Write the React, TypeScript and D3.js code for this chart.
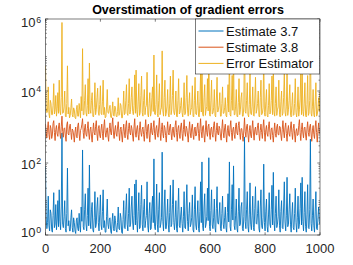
import React from "react";
import * as d3 from "d3";

// samples every 2.5 iterations, 0..1000
const step = 2.5;

const estimate37 = [
  80, 3, 1.5, 2.2, 12, 1.8, 1.3, 5, 4, 1.4, 1.2, 3.5, 15, 1.6, 2, 7, 1.4, 2.6, 9, 1.7,
  18, 2.4, 1.4, 6, 680, 2, 1.6, 3.2, 9, 1.5, 1.2, 4, 72, 1.8, 2.5, 1.3, 1.3, 3, 5, 1.6,
  1.2, 3, 2.2, 1.3, 1.1, 2.6, 3, 1.5, 1.3, 4, 1.8, 1.2, 6, 2.4, 230, 1.7, 1.4, 5, 14, 2,
  1.3, 3.5, 20, 1.8, 88, 2.6, 1.5, 5, 8, 1.4, 1.2, 3, 16, 1.6, 2, 6, 11, 2.2, 1.3, 3.8,
  13, 1.9, 1.4, 4.5, 18, 1.6, 2.5, 1.2, 1.2, 3.2, 10, 2, 1.5, 2.8, 3, 1.3, 1.1, 2.4, 4, 1.5,
  1.3, 3.4, 2.5, 1.4, 1.2, 2.2, 6, 1.5, 1.4, 4, 3, 1.2, 1.1, 2.7, 9, 1.6, 1.5, 5, 14, 2,
  1.3, 4, 20, 1.7, 2, 6, 12, 2.3, 1.4, 3.5, 26, 1.9, 34, 2.5, 1.2, 4.5, 15, 1.5, 1.6, 7,
  24, 2, 1.3, 5, 10, 1.6, 2.5, 3.5, 30, 1.8, 1.2, 4, 8, 1.4, 1.5, 6, 12, 2.2, 130, 1.7,
  1.4, 3.8, 26, 2, 1.2, 5, 15, 1.6, 2, 3, 200, 2.4, 1.3, 6, 18, 1.5, 1.5, 3.4, 10, 1.9,
  1.2, 4.2, 24, 1.7, 2, 7, 34, 2.2, 1.4, 3, 9, 1.5, 1.2, 5, 20, 1.8, 1.6, 3.6, 6, 2.1,
  1.2, 3.2, 16, 1.6, 1.5, 6, 25, 2.4, 1.3, 4, 8, 1.7, 2, 3, 13, 1.4, 1.2, 5, 22, 1.9,
  1.4, 3.6, 9, 1.5, 1.2, 4.5, 30, 2.2, 107, 1.8, 1.3, 6, 14, 1.6, 2, 3.3, 20, 2.5, 140, 1.7,
  1.3, 4.8, 18, 1.9, 1.5, 3, 10, 1.6, 1.2, 5.5, 22, 2.2, 2, 3.6, 8, 1.5, 1.3, 4, 12, 2,
  1.5, 3, 6, 1.6, 1.2, 4.2, 14, 2.3, 107, 1.7, 1.3, 5, 25, 2.6, 83, 1.8, 1.4, 3.4, 10, 1.5,
  1.2, 4.4, 20, 1.8, 2, 6, 8, 1.5, 1.3, 3.2, 530, 2.4, 1.5, 5, 16, 1.7, 1.2, 3.8, 28, 2,
  1.4, 3.4, 12, 1.6, 1.3, 5.5, 22, 2.1, 2, 4, 9, 1.5, 1.2, 6, 18, 1.8, 1.5, 3, 93, 2.2,
  1.3, 4.6, 10, 1.7, 1.2, 3.6, 15, 2, 1.6, 5, 24, 1.9, 55, 2.5, 1.3, 4, 12, 1.6, 2, 3.2,
  18, 1.8, 1.2, 4.5, 9, 1.6, 1.5, 6, 30, 2.3, 1.3, 3.4, 40, 1.7, 2, 5, 14, 2, 1.2, 3.6,
  8, 1.6, 1.4, 4, 20, 2.2, 1.2, 3, 12, 1.5, 2, 5.5, 28, 1.9, 40, 2.4, 1.3, 4.2, 16, 1.7,
  1.2, 3.8, 25, 1.6, 1.5, 5, 460, 2.1, 1.3, 3.4, 10, 1.8, 1.2, 4.6, 16, 1.5, 1.4, 3, 6, 2.4,
  2,
];

const estimate38 = [
  1200, 700, 500, 950, 1400, 620, 450, 1100, 900, 480, 600, 1250, 1500, 700, 420, 850, 1100, 650, 550, 1000,
  1300, 680, 480, 1050, 2000, 750, 520, 900, 950, 560, 400, 1150, 1400, 650, 600, 1000, 1200, 700, 450, 880,
  800, 600, 380, 720, 1000, 550, 500, 1100, 1300, 640, 420, 800, 900, 1200, 1700, 700, 480, 950, 1200, 620,
  550, 900, 1400, 680, 450, 850, 1000, 560, 380, 760, 1300, 700, 600, 1050, 1500, 640, 420, 900, 1100, 600,
  500, 880, 1200, 650, 440, 1000, 1600, 720, 520, 780, 950, 560, 400, 900, 1300, 700, 600, 1150, 1800, 680,
  480, 820, 1100, 640, 550, 1000, 1400, 700, 420, 860, 1000, 600, 380, 760, 1200, 680, 500, 1050, 1500, 620,
  450, 900, 1300, 700, 600, 1100, 900, 560, 400, 1000, 1700, 680, 520, 880, 1100, 620, 430, 950, 1400, 700,
  550, 850, 1000, 620, 400, 900, 1600, 740, 480, 1050, 1200, 600, 380, 820, 1300, 700, 600, 980, 1500, 650,
  450, 920, 1100, 640, 520, 1000, 1800, 720, 420, 860, 1300, 660, 500, 1100, 950, 580, 380, 780, 1400, 700,
  600, 1000, 1200, 680, 440, 820, 1000, 600, 520, 1100, 1500, 700, 400, 900, 1100, 640, 480, 1000, 1300, 660,
  420, 860, 1600, 720, 550, 1050, 900, 600, 380, 780, 1400, 680, 500, 950, 1200, 620, 450, 880, 1000, 560,
  600, 1000, 1300, 660, 420, 900, 1700, 740, 500, 1000, 1100, 600, 380, 820, 1500, 700, 550, 1050, 1200, 640,
  450, 880, 1000, 620, 520, 1100, 1400, 700, 400, 800, 1300, 660, 600, 1050, 900, 560, 430, 900, 1600, 720,
  500, 950, 1200, 640, 380, 780, 1100, 600, 550, 1000, 1500, 700, 420, 860, 1000, 620, 480, 1050, 1300, 680,
  600, 1100, 1400, 700, 450, 900, 900, 580, 400, 820, 1800, 740, 520, 1000, 1200, 640, 380, 780, 1100, 600,
  500, 920, 1500, 680, 430, 860, 1000, 620, 600, 1100, 1300, 660, 420, 800, 1200, 700, 480, 1000, 1600, 720,
  400, 840, 1100, 640, 550, 1050, 1400, 700, 450, 880, 950, 580, 380, 760, 1300, 660, 520, 1000, 1200, 620,
  600, 1050, 1000, 600, 420, 860, 1500, 720, 500, 950, 1300, 660, 400, 820, 1100, 640, 550, 1000, 1400, 700,
  450, 900, 1200, 640, 380, 760, 900, 580, 600, 1100, 1600, 700, 420, 860, 1300, 680, 500, 950, 1000, 600,
  430, 880, 1400, 700, 550, 1000, 1200, 640, 400, 820, 1100, 620, 480, 1000, 1500, 700, 380, 780, 1300, 660,
  700,
];

const errorEstimator = [
  5e4, 3500, 2500, 2800, 1.3e4, 2400, 1800, 5500, 4500, 2200, 2200, 4000, 1.6e4, 2300, 3000, 7500, 2000, 3200, 9000, 2400,
  2e4, 2800, 2200, 6500, 8e5, 2400, 2500, 3600, 1e4, 2000, 1900, 4500, 5e4, 2300, 3500, 1800, 2100, 3400, 6000, 2200,
  1900, 3400, 3000, 1800, 1700, 3000, 4000, 2000, 2000, 4500, 2800, 1800, 7000, 2800, 1.5e5, 2200, 2200, 5500, 1.5e4, 2500,
  2000, 4000, 2.2e4, 2300, 6e4, 3000, 2400, 5500, 9000, 2000, 1900, 3500, 1.7e4, 2200, 3000, 6500, 1.2e4, 2600, 2100, 4200,
  1.4e4, 2400, 2200, 5000, 2e4, 2200, 3500, 1800, 1900, 3600, 1.1e4, 2500, 2400, 3200, 4000, 1900, 1800, 2800, 5000, 2100,
  2000, 3800, 3500, 2000, 1900, 2700, 6500, 2100, 2200, 4500, 4000, 1800, 1800, 3100, 1e4, 2200, 2400, 5500, 1.5e4, 2400,
  2100, 4500, 2.2e4, 2300, 3000, 6500, 1.3e4, 2700, 2200, 4000, 2.8e4, 2400, 3.8e4, 3000, 1900, 5000, 1.6e4, 2100, 2500, 7500,
  2.6e4, 2500, 2000, 5500, 1.1e4, 2200, 3500, 4000, 3.3e4, 2300, 1900, 4500, 9000, 2000, 2400, 6500, 1.3e4, 2700, 1e5, 2300,
  2200, 4200, 2.8e4, 2400, 1900, 5500, 1.6e4, 2200, 3000, 3400, 1.3e5, 2800, 2000, 6500, 2e4, 2000, 2400, 3800, 1.1e4, 2300,
  1900, 4600, 2.6e4, 2200, 3000, 7500, 3.8e4, 2600, 2200, 3400, 1e4, 2000, 1900, 5500, 2.2e4, 2300, 2500, 4000, 6500, 2500,
  1900, 3600, 1.7e4, 2200, 2400, 6500, 2.7e4, 2800, 2000, 4500, 9000, 2200, 3000, 3400, 1.4e4, 2000, 1900, 5500, 2.4e4, 2300,
  2200, 4000, 1e4, 2000, 1900, 5000, 3.3e4, 2600, 1.2e5, 2300, 2000, 6500, 1.5e4, 2100, 3000, 3700, 2.2e4, 2800, 1.5e5, 2200,
  2000, 5300, 2e4, 2300, 2400, 3400, 1.1e4, 2100, 1900, 6000, 2.4e4, 2600, 3000, 4000, 9000, 2000, 2000, 4500, 1.3e4, 2400,
  2400, 3400, 6500, 2100, 1900, 4600, 1.5e4, 2600, 1.2e5, 2200, 2000, 5500, 2.7e4, 2900, 9e4, 2200, 2200, 3800, 1.1e4, 2000,
  1900, 4800, 2.2e4, 2200, 3000, 6500, 9000, 2000, 2000, 3600, 6e5, 2700, 2400, 5500, 1.7e4, 2200, 1900, 4200, 3e4, 2400,
  2200, 3800, 1.3e4, 2100, 2000, 6000, 2.4e4, 2400, 3000, 4500, 1e4, 2000, 1900, 6500, 2e4, 2200, 2400, 3400, 1e5, 2500,
  2000, 5000, 1.1e4, 2100, 1900, 4000, 1.6e4, 2300, 2500, 5500, 2.6e4, 2200, 6e4, 2800, 2000, 4500, 1.3e4, 2100, 3000, 3600,
  2e4, 2200, 1900, 5000, 1e4, 2100, 2400, 6500, 3.3e4, 2600, 2000, 3800, 4.4e4, 2100, 3000, 5500, 1.5e4, 2300, 1900, 4000,
  9000, 2100, 2200, 4500, 2.2e4, 2500, 1900, 3400, 1.3e4, 2000, 3000, 6000, 3e4, 2200, 4.4e4, 2700, 2000, 4600, 1.7e4, 2100,
  1900, 4200, 2.7e4, 2100, 2400, 5500, 5e5, 2400, 2000, 3800, 1.1e4, 2200, 1900, 5000, 1.7e4, 2000, 2200, 3400, 6500, 2700,
  9000,
];

const xTicks = [0, 200, 400, 600, 800, 1000];
const yTickExps = [0, 2, 4, 6];
const seriesNames = ["Estimate 3.7", "Estimate 3.8", "Error Estimator"];
const colors = ["#0072BD", "#D95319", "#EDB120"];

const W = 353;
const H = 265;
const m = { left: 45.5, right: 320, top: 19, bottom: 235 };
const font = "'Liberation Sans', Arial, sans-serif";
const axisColor = "#262626";

export default function App() {
  const x = d3.scaleLinear().domain([0, 1000]).range([m.left, m.right]);
  const y = d3.scaleLog().domain([1, 1e6]).range([m.bottom, m.top]);

  const line = d3
    .line<number>()
    .x((_, i) => x(i * step))
    .y((d) => y(d));

  const series = [estimate37, estimate38, errorEstimator];

  // minor ticks for log axis
  const minor: number[] = [];
  for (let e = 0; e < 6; e++) {
    for (let k = 2; k <= 9; k++) minor.push(k * Math.pow(10, e));
  }

  // matlab nudges the end labels inward
  const labelShift = (e: number) => (e === 6 ? 8.3 : e === 0 ? 2.3 : 5.5);

  const legend = { x: 195.5, y: 19, w: 124, h: 55 };

  return (
    <svg
      width={W}
      height={H}
      style={{ position: "fixed", left: 0, top: 0, background: "#fff" }}
      fontFamily={font}
    >
      <defs>
        <clipPath id="plotClip">
          <rect x={m.left} y={m.top} width={m.right - m.left} height={m.bottom - m.top} />
        </clipPath>
      </defs>
      <rect x={0} y={0} width={W} height={H} fill="#fff" />

      <g clipPath="url(#plotClip)">
        {series.map((s, i) => (
          <path
            key={i}
            d={line(s) || ""}
            fill="none"
            stroke={colors[i]}
            strokeWidth={0.9}
            strokeLinejoin="round"
          />
        ))}
      </g>

      {/* axes box */}
      <rect
        x={m.left}
        y={m.top}
        width={m.right - m.left}
        height={m.bottom - m.top}
        fill="none"
        stroke={axisColor}
        strokeWidth={0.6}
      />

      {/* x ticks */}
      {xTicks.map((t) => (
        <g key={t}>
          <line x1={x(t)} x2={x(t)} y1={m.bottom} y2={m.bottom - 2.7} stroke={axisColor} strokeWidth={0.6} />
          <line x1={x(t)} x2={x(t)} y1={m.top} y2={m.top + 2.7} stroke={axisColor} strokeWidth={0.6} />
          <text x={x(t)} y={253.3} textAnchor="middle" fontSize={13} fill={axisColor}>
            {t}
          </text>
        </g>
      ))}

      {/* y ticks */}
      {yTickExps.map((e) => {
        const yy = y(Math.pow(10, e));
        const base = yy + labelShift(e);
        return (
          <g key={e}>
            <line x1={m.left} x2={m.left + 2.7} y1={yy} y2={yy} stroke={axisColor} strokeWidth={0.6} />
            <line x1={m.right} x2={m.right - 2.7} y1={yy} y2={yy} stroke={axisColor} strokeWidth={0.6} />
            <text x={35.5} y={base} textAnchor="end" fontSize={13} fill={axisColor}>
              10
            </text>
            <text x={36.2} y={base - 4.8} textAnchor="start" fontSize={8.8} fill={axisColor}>
              {e}
            </text>
          </g>
        );
      })}
      {minor.map((v) => {
        const yy = y(v);
        return (
          <g key={v}>
            <line x1={m.left} x2={m.left + 1.5} y1={yy} y2={yy} stroke={axisColor} strokeWidth={0.5} />
            <line x1={m.right} x2={m.right - 1.5} y1={yy} y2={yy} stroke={axisColor} strokeWidth={0.5} />
          </g>
        );
      })}

      {/* title */}
      <text x={188} y={13.5} textAnchor="middle" fontSize={12.5} fontWeight="bold" fill="#000">
        Overstimation of gradient errors
      </text>

      {/* legend */}
      <rect
        x={legend.x}
        y={legend.y}
        width={legend.w}
        height={legend.h}
        fill="#fff"
        stroke={axisColor}
        strokeWidth={0.6}
      />
      {seriesNames.map((name, i) => {
        const ly = legend.y + 12 + i * 16.2;
        return (
          <g key={name}>
            <line x1={legend.x + 3} x2={legend.x + 28} y1={ly} y2={ly} stroke={colors[i]} strokeWidth={1} />
            <text x={legend.x + 30.5} y={ly + 4.6} fontSize={13} fill="#111">
              {name}
            </text>
          </g>
        );
      })}
    </svg>
  );
}
